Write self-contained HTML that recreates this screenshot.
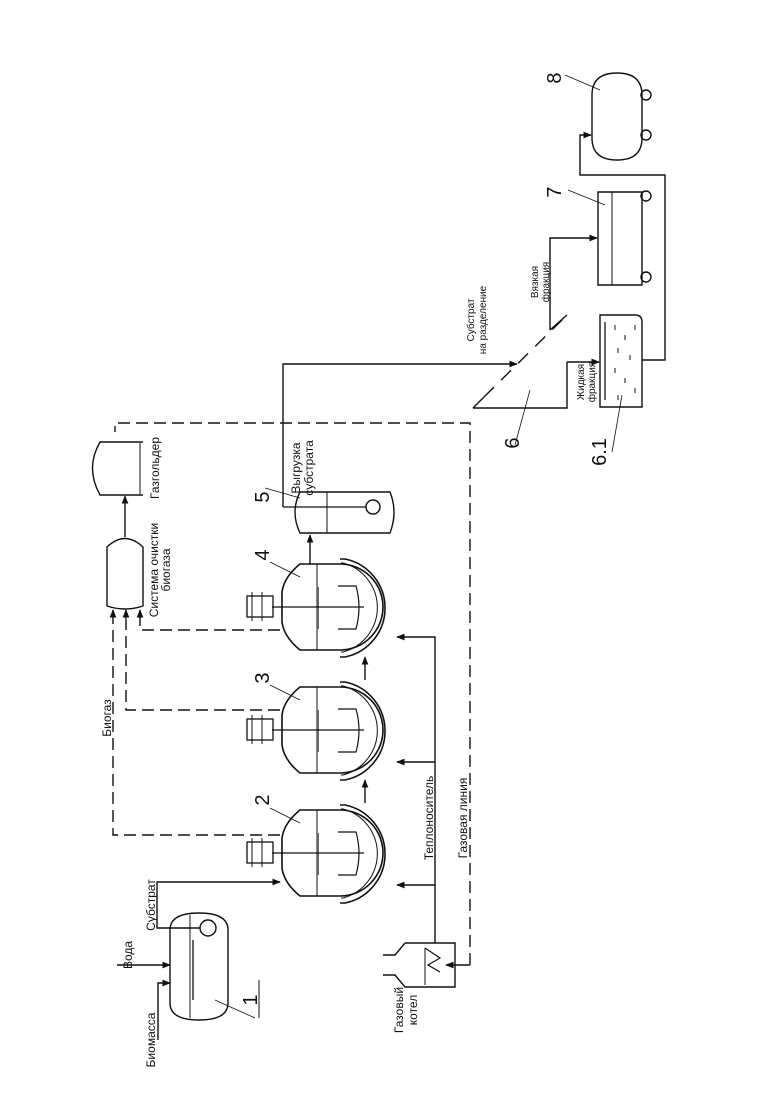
<!DOCTYPE html>
<html><head><meta charset="utf-8"><style>
html,body{margin:0;padding:0;background:#fff}
svg{display:block}
text{font-family:"Liberation Sans",sans-serif;font-size:12px;fill:#111}
.n{font-size:20px}
</style></head><body>
<svg width="780" height="1103" viewBox="0 0 780 1103" xmlns="http://www.w3.org/2000/svg">
<defs>
<marker id="a" viewBox="0 0 10 10" refX="9" refY="5" markerWidth="6" markerHeight="6" orient="auto"><path d="M0,1 L10,5 L0,9 z" fill="#111"/></marker>
<g id="reactor">
 <path d="M300,-43 Q284,-30 282,-15 L282,15 Q284,30 300,43 L340,43 A43,43 0 0 0 340,-43 Z" fill="none" stroke="#111" stroke-width="1.6"/>
 <path d="M340,-48 L345,-48 A50,50 0 0 1 345,50 L340,50" fill="none" stroke="#111" stroke-width="1.6"/>
 <path d="M341,-44 L343,-44 A46,46 0 0 1 343,45 L341,45" fill="none" stroke="#111" stroke-width="1"/>
 <line x1="317" y1="-43" x2="317" y2="43" stroke="#111" stroke-width="1"/>
 <line x1="318" y1="-20" x2="318" y2="22" stroke="#666" stroke-width="2"/>
 <line x1="272" y1="0" x2="364" y2="0" stroke="#111" stroke-width="1.2"/>
 <path d="M338,-21 L356,-21 Q362,0 356,22 L338,22" fill="none" stroke="#111" stroke-width="1.2"/>
 <rect x="247" y="-11" width="26" height="21" fill="none" stroke="#111" stroke-width="1.3"/>
 <line x1="252" y1="-15" x2="252" y2="14" stroke="#111" stroke-width="1"/>
 <line x1="262" y1="-15" x2="262" y2="14" stroke="#111" stroke-width="1"/>
 <line x1="300" y1="-30" x2="270" y2="-45" stroke="#111" stroke-width="0.8"/>
</g>
</defs>
<g stroke="#111" fill="none" stroke-width="1.4">
<use href="#reactor" transform="translate(0,853)"/>
<use href="#reactor" transform="translate(0,730)"/>
<use href="#reactor" transform="translate(0,607)"/>
<line x1="365" y1="803" x2="365" y2="780" marker-end="url(#a)"/>
<line x1="365" y1="680" x2="365" y2="657" marker-end="url(#a)"/>
<line x1="310" y1="564" x2="310" y2="535" marker-end="url(#a)"/>
<polyline points="435,943 435,637 397,637" marker-end="url(#a)"/>
<line x1="435" y1="762" x2="397" y2="762" marker-end="url(#a)"/>
<line x1="435" y1="885" x2="397" y2="885" marker-end="url(#a)"/>
<path d="M405,943 L455,943 L455,987 L405,987 L395,975 L383,975 M405,943 L395,955 L383,955"/>
<path d="M425,948 L440,958 L428,965 L440,972" stroke-width="1.2"/>
<line x1="425" y1="948" x2="425" y2="985" stroke-width="1"/>
<g stroke-dasharray="12,6">
<polyline points="470,965 470,423 115,423 115,432"/>
<polyline points="280,835 113,835 113,614"/>
<polyline points="280,710 126,710 126,614"/>
<polyline points="280,630 140,630 140,614"/>
</g>
<line x1="470" y1="965" x2="446" y2="965" marker-end="url(#a)"/>
<line x1="113" y1="618" x2="113" y2="610" marker-end="url(#a)"/>
<line x1="126" y1="618" x2="126" y2="610" marker-end="url(#a)"/>
<line x1="140" y1="618" x2="140" y2="610" marker-end="url(#a)"/>
<path d="M107,606 L107,547 Q125,530 143,547 L143,606 Q125,612 107,606 Z"/>
<line x1="125" y1="537" x2="125" y2="496" marker-end="url(#a)"/>
<path d="M143,442 L100,442 Q85,468 100,495 L143,495"/>
<line x1="140" y1="443" x2="140" y2="494" stroke-width="1"/>
<path d="M300,492 L390,492 Q398,512 390,533 L300,533 Q290,512 300,492 Z"/>
<line x1="327" y1="492" x2="327" y2="533" stroke-width="1"/>
<line x1="283" y1="507" x2="366" y2="507" stroke-width="1.2"/>
<circle cx="373" cy="507" r="7"/>
<line x1="300" y1="498" x2="265" y2="488" stroke-width="0.8"/>
<polyline points="283,507 283,364 517,364" marker-end="url(#a)"/>
<!-- separator 6 -->
<path d="M473,408 L567,408 L567,362 M567,315 L550,330 M473,408 L484,397"/>
<line x1="484" y1="397" x2="567" y2="315" stroke-dasharray="14,10"/>
<line x1="567" y1="362" x2="599" y2="362" marker-end="url(#a)"/>
<polyline points="550,330 550,238 597,238" marker-end="url(#a)"/>
<line x1="530" y1="390" x2="515" y2="445" stroke-width="0.8"/>
<!-- tank 6.1 -->
<path d="M600,315 L635,315 Q642,315 642,322 L642,407 L600,407 Z"/>
<line x1="605" y1="322" x2="605" y2="400" stroke="#666" stroke-width="2"/>
<g stroke-width="1"><line x1="615" y1="325" x2="615" y2="330"/><line x1="625" y1="335" x2="625" y2="340"/><line x1="635" y1="325" x2="635" y2="330"/><line x1="618" y1="348" x2="618" y2="353"/><line x1="630" y1="355" x2="630" y2="360"/><line x1="615" y1="368" x2="615" y2="373"/><line x1="625" y1="378" x2="625" y2="383"/><line x1="635" y1="388" x2="635" y2="393"/><line x1="618" y1="395" x2="618" y2="400"/></g>
<line x1="622" y1="395" x2="612" y2="452" stroke-width="0.8"/>
<polyline points="642,360 665,360 665,175 580,175 580,135 591,135" marker-end="url(#a)"/>
<!-- tank 7 -->
<path d="M598,192 L642,192 L642,285 L598,285 Z"/>
<line x1="612" y1="192" x2="612" y2="285" stroke-width="1"/>
<circle cx="646" cy="196" r="5"/><circle cx="646" cy="277" r="5"/>
<line x1="605" y1="205" x2="568" y2="190" stroke-width="0.8"/>
<!-- tank 8 -->
<path d="M592,95 Q592,73 617,73 Q642,73 642,95 L642,138 Q642,160 617,160 Q592,160 592,138 Z"/>
<circle cx="646" cy="95" r="5"/><circle cx="646" cy="135" r="5"/>
<line x1="600" y1="90" x2="565" y2="75" stroke-width="0.8"/>
<!-- tank 1 -->
<path d="M170,930 Q170,913 199,913 Q228,913 228,930 L228,1003 Q228,1020 199,1020 Q170,1020 170,1003 Z"/>
<line x1="190" y1="915" x2="190" y2="1018" stroke-width="1"/>
<line x1="193" y1="940" x2="193" y2="1000" stroke="#666" stroke-width="2"/>
<circle cx="208" cy="928" r="8"/>
<polyline points="200,928 157,928 157,882 280,882" marker-end="url(#a)"/>
<line x1="117" y1="965" x2="170" y2="965" marker-end="url(#a)"/>
<polyline points="158,1040 158,983 170,983" marker-end="url(#a)"/>
<line x1="215" y1="1000" x2="255" y2="1018" stroke-width="0.8"/>
<line x1="259" y1="980" x2="259" y2="1018" stroke-width="1"/>
</g>
<g>
<text class="n" transform="rotate(-90,257,1000)" x="257" y="1000" text-anchor="middle">1</text>
<text class="n" transform="rotate(-90,269,800)" x="269" y="800" text-anchor="middle">2</text>
<text class="n" transform="rotate(-90,269,678)" x="269" y="678" text-anchor="middle">3</text>
<text class="n" transform="rotate(-90,269,555)" x="269" y="555" text-anchor="middle">4</text>
<text class="n" transform="rotate(-90,269,497)" x="269" y="497" text-anchor="middle">5</text>
<text class="n" transform="rotate(-90,519,443)" x="519" y="443" text-anchor="middle">6</text>
<text class="n" transform="rotate(-90,606,452)" x="606" y="452" text-anchor="middle">6.1</text>
<text class="n" transform="rotate(-90,561,192)" x="561" y="192" text-anchor="middle">7</text>
<text class="n" transform="rotate(-90,561,78)" x="561" y="78" text-anchor="middle">8</text>
<text transform="rotate(-90,155,1040)" x="155" y="1040" text-anchor="middle">Биомасса</text>
<text transform="rotate(-90,132,955)" x="132" y="955" text-anchor="middle">Вода</text>
<text transform="rotate(-90,155,905)" x="155" y="905" text-anchor="middle">Субстрат</text>
<text transform="rotate(-90,111,718)" x="111" y="718" text-anchor="middle">Биогаз</text>
<text transform="rotate(-90,158,570)" x="158" y="570" text-anchor="middle">Система очистки</text>
<text transform="rotate(-90,170,570)" x="170" y="570" text-anchor="middle">биогаза</text>
<text transform="rotate(-90,159,468)" x="159" y="468" text-anchor="middle">Газгольдер</text>
<text transform="rotate(-90,300,468)" x="300" y="468" text-anchor="middle">Выгрузка</text>
<text transform="rotate(-90,313,468)" x="313" y="468" text-anchor="middle">субстрата</text>
<text transform="rotate(-90,433,818)" x="433" y="818" text-anchor="middle">Теплоноситель</text>
<text transform="rotate(-90,467,818)" x="467" y="818" text-anchor="middle">Газовая линия</text>
<text transform="rotate(-90,403,1010)" x="403" y="1010" text-anchor="middle">Газовый</text>
<text transform="rotate(-90,417,1010)" x="417" y="1010" text-anchor="middle">котел</text>
<text style="font-size:10px" transform="rotate(-90,474,320)" x="474" y="320" text-anchor="middle">Субстрат</text>
<text style="font-size:10px" transform="rotate(-90,486,320)" x="486" y="320" text-anchor="middle">на разделение</text>
<text style="font-size:10px" transform="rotate(-90,538,282)" x="538" y="282" text-anchor="middle">Вязкая</text>
<text style="font-size:10px" transform="rotate(-90,549,282)" x="549" y="282" text-anchor="middle">фракция</text>
<text style="font-size:10px" transform="rotate(-90,584,382)" x="584" y="382" text-anchor="middle">Жидкая</text>
<text style="font-size:10px" transform="rotate(-90,595,382)" x="595" y="382" text-anchor="middle">фракция</text>
</g>
</svg>
</body></html>
